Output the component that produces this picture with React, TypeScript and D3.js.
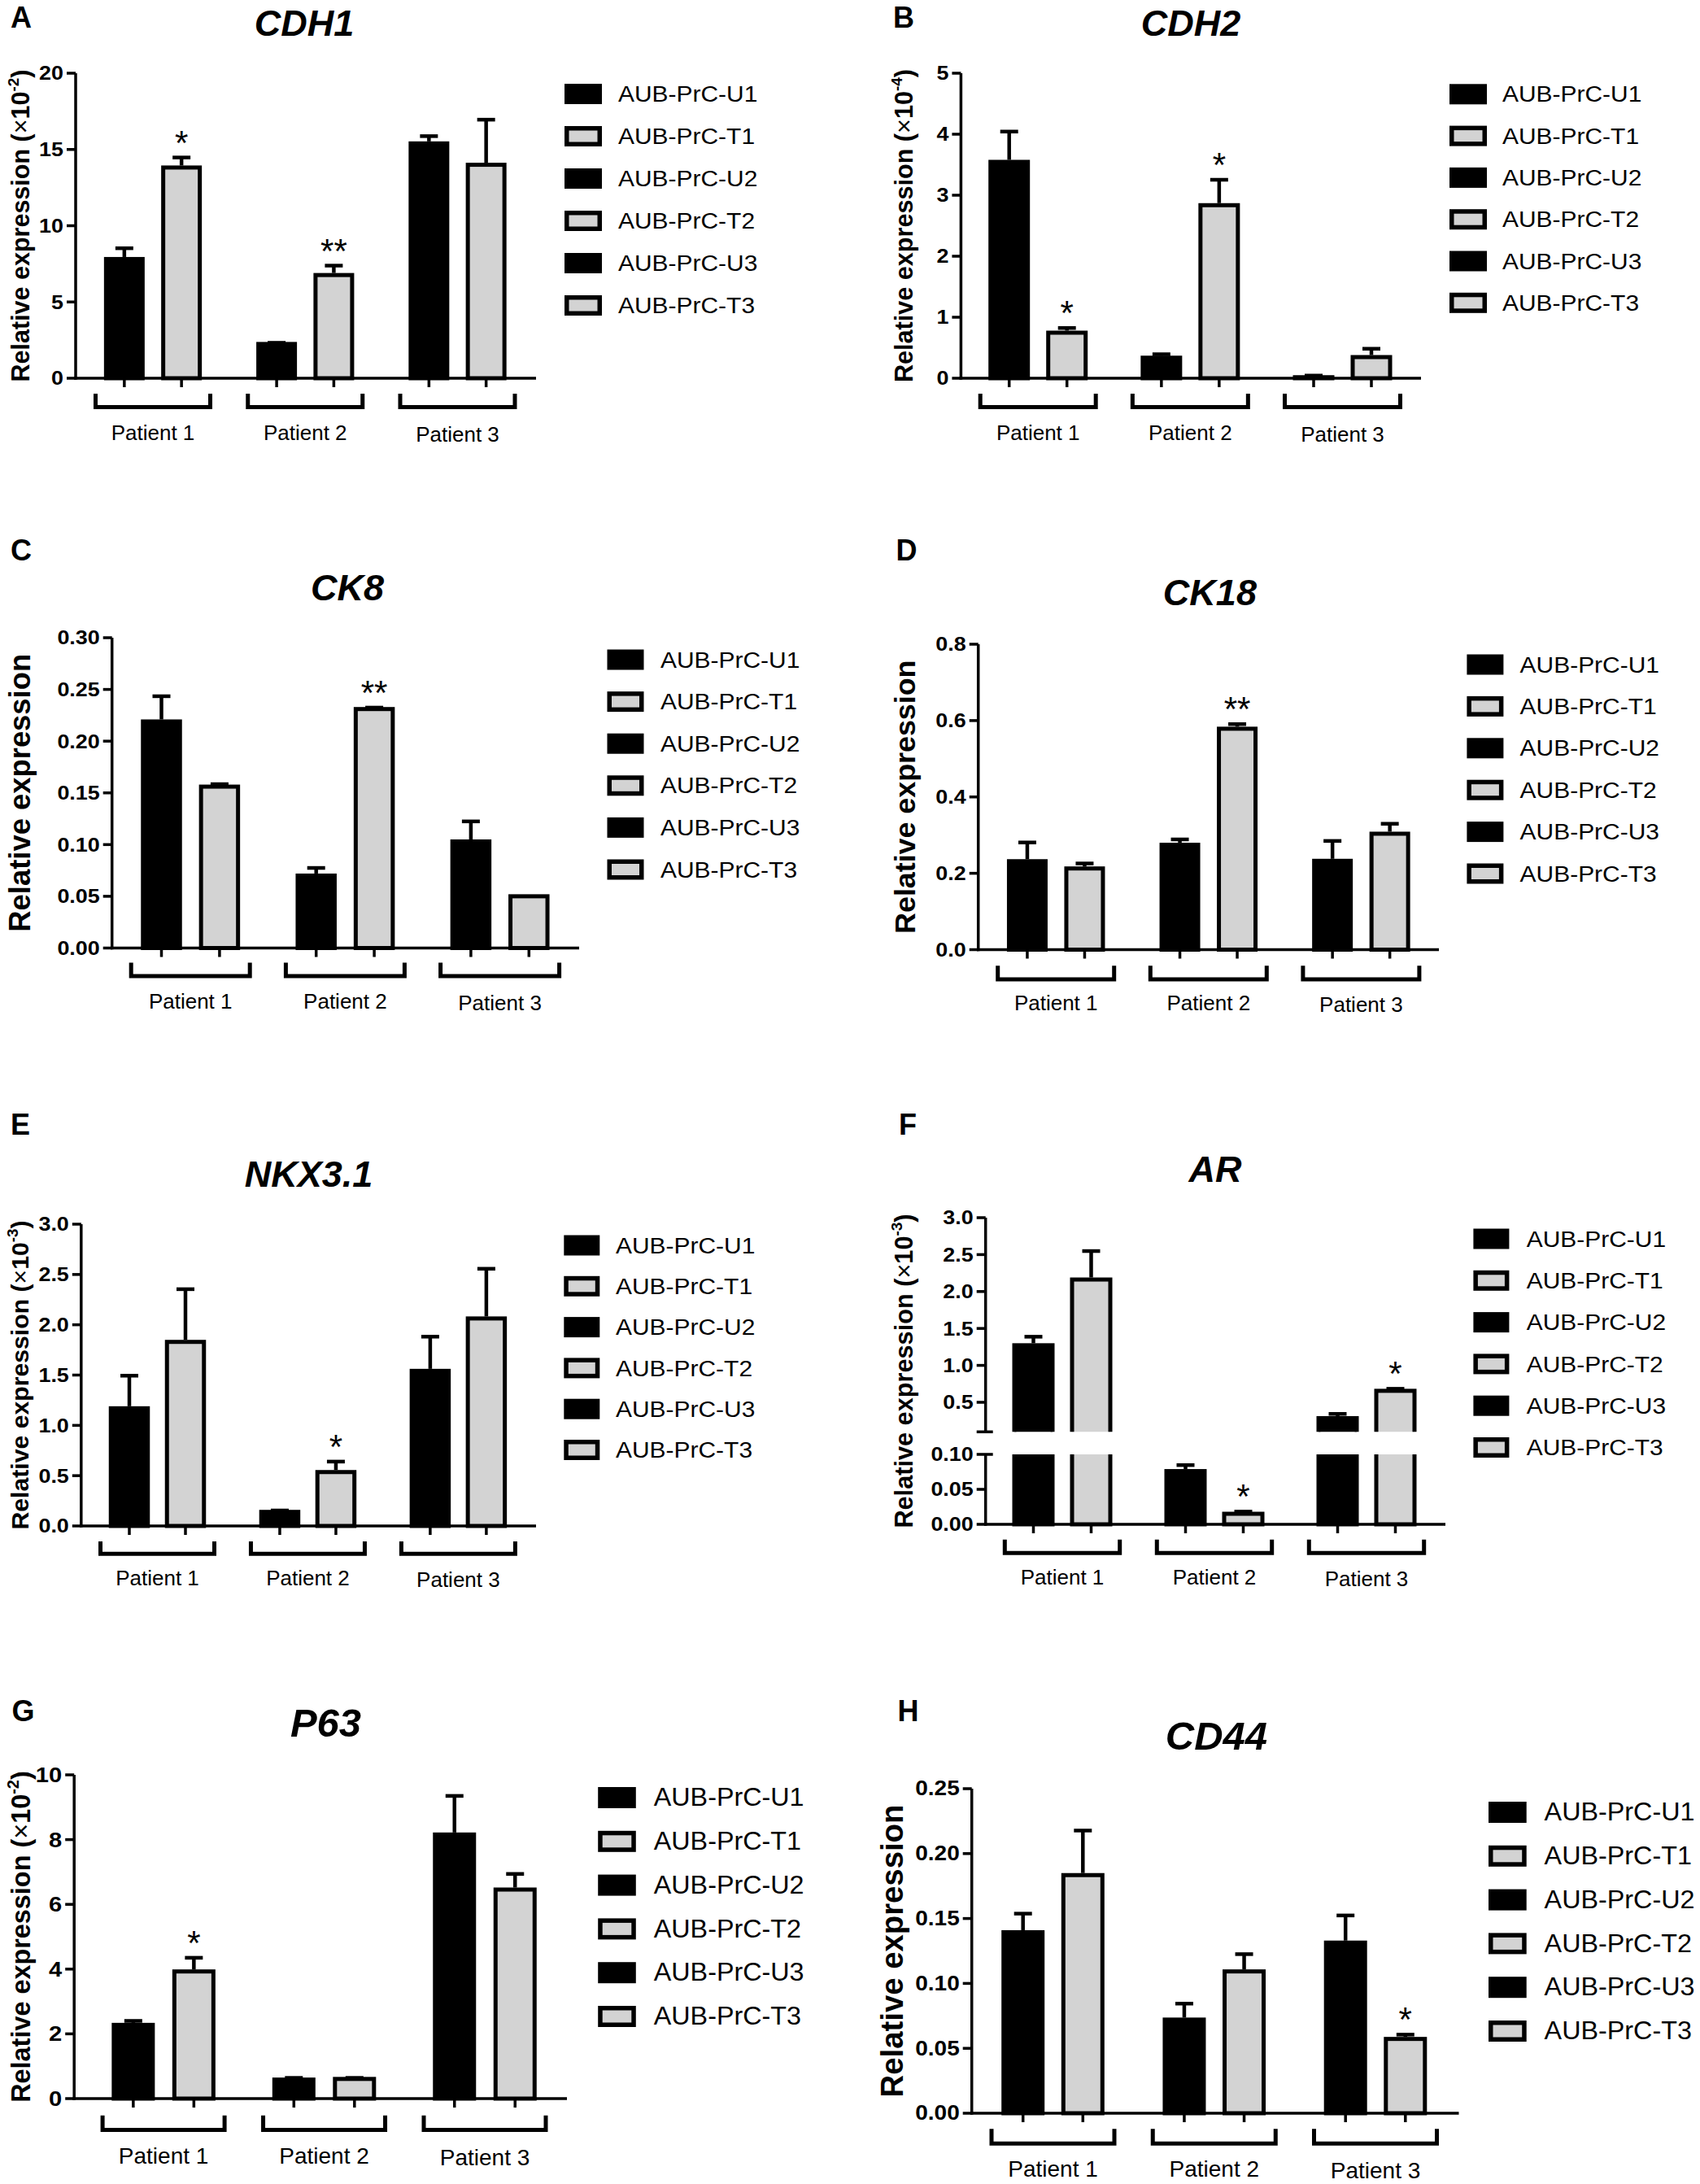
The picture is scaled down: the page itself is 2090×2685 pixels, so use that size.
import React from "react";
import * as d3 from "d3";

const FONT = "'Liberation Sans', Arial, Helvetica, sans-serif";
const GRAY = "#d3d3d3";
const INK = "#000000";

// ---------------- data ----------------
const samples = ["AUB-PrC-U1", "AUB-PrC-T1", "AUB-PrC-U2", "AUB-PrC-T2", "AUB-PrC-U3", "AUB-PrC-T3"];
const patients = ["Patient 1", "Patient 2", "Patient 3"];

const cdh1Mean = [7.95, 13.95, 2.38, 6.9, 15.53, 14.13];
const cdh1Sem = [0.68, 0.63, 0.05, 0.59, 0.45, 2.93];
const cdh1Sig = ["", "*", "", "**", "", ""];
const cdh1Ticks = [0, 5, 10, 15, 20];

const cdh2Mean = [3.58, 0.78, 0.37, 2.87, 0.05, 0.38];
const cdh2Sem = [0.49, 0.07, 0.05, 0.41, 0.02, 0.13];
const cdh2Sig = ["", "*", "", "*", "", ""];
const cdh2Ticks = [0, 1, 2, 3, 4, 5];

const ck8Mean = [0.221, 0.158, 0.072, 0.233, 0.105, 0.052];
const ck8Sem = [0.024, 0.002, 0.007, 0.001, 0.019, 0];
const ck8Sig = ["", "", "", "**", "", ""];
const ck8Ticks = [0, 0.05, 0.1, 0.15, 0.2, 0.25, 0.3];

const ck18Mean = [0.237, 0.218, 0.28, 0.584, 0.238, 0.309];
const ck18Sem = [0.048, 0.012, 0.013, 0.011, 0.051, 0.025];
const ck18Sig = ["", "", "", "**", "", ""];
const ck18Ticks = [0, 0.2, 0.4, 0.6, 0.8];

const nkxMean = [1.19, 1.85, 0.16, 0.556, 1.562, 2.083];
const nkxSem = [0.32, 0.52, 0.01, 0.1, 0.336, 0.49];
const nkxSig = ["", "", "", "*", "", ""];
const nkxTicks = [0, 0.5, 1, 1.5, 2, 2.5, 3];

const arMean = [1.3, 2.19, 0.079, 0.018, 0.313, 0.683];
const arSem = [0.11, 0.38, 0.008, 0.0025, 0.052, 0.022];
const arSig = ["", "", "", "*", "", "*"];
const arLowTicks = [0, 0.05, 0.1];
const arHighTicks = [0.5, 1, 1.5, 2, 2.5, 3];

const p63Mean = [2.34, 3.99, 0.65, 0.67, 8.22, 6.52];
const p63Sem = [0.11, 0.41, 0.04, 0.02, 1.18, 0.47];
const p63Sig = ["", "*", "", "", "", ""];
const p63Ticks = [0, 2, 4, 6, 8, 10];

const cd44Mean = [0.141, 0.185, 0.0737, 0.1108, 0.133, 0.0588];
const cd44Sem = [0.014, 0.034, 0.012, 0.013, 0.0206, 0.003];
const cd44Sig = ["", "", "", "", "", "*"];
const cd44Ticks = [0, 0.05, 0.1, 0.15, 0.2, 0.25];

// ---------------- layout (styles / positions) ----------------
type Layout = {
  letter: string; letterX: number; letterY: number;
  title: string; titleX: number; titleY: number; titleSize: number;
  yExp?: string; yLabelX: number; yLabelSize: number;
  axisX: number; y0: number; yTop: number; axisEnd: number; tickSize: number;
  g0: number; g2: number; pair: number; barW: number;
  bHalf: number; bTop: number; bBot: number; patY: number; patSize: number;
  legX: number; legW: number; legH: number; legY: number; legStep: number; legTextX: number; legSize: number; legSx: number;
};

const base = { tickSize: 24, patSize: 26, legW: 46, legH: 25, legSize: 28, legSx: 1.07, titleSize: 45, barW: 51 };

const LA: Layout = { ...base, letter: "A", letterX: 13, letterY: 34, title: "CDH1", titleX: 374, titleY: 44,
  yExp: "-2", yLabelX: 36, yLabelSize: 30.5, axisX: 93, y0: 465, yTop: 90, axisEnd: 659,
  g0: 188, g2: 562.5, pair: 70.3, barW: 50, bHalf: 70.5, bTop: 484, bBot: 503, patY: 532,
  legX: 694, legY: 115.5, legStep: 52, legTextX: 760 };
const LB: Layout = { ...base, letter: "B", letterX: 1098, letterY: 34, title: "CDH2", titleX: 1464, titleY: 44,
  yExp: "-4", yLabelX: 1122, yLabelSize: 30.6, axisX: 1181.4, y0: 465, yTop: 90, axisEnd: 1747,
  g0: 1276.2, g2: 1650.5, pair: 71, bHalf: 71, bTop: 484, bBot: 503, patY: 532,
  legX: 1782, legY: 115.8, legStep: 51.3, legTextX: 1847 };
const LC: Layout = { ...base, letter: "C", letterX: 13, letterY: 689, title: "CK8", titleX: 427, titleY: 738,
  yLabelX: 37, yLabelSize: 36.4, axisX: 137.7, y0: 1165.5, yTop: 784, axisEnd: 712,
  g0: 234.2, g2: 614.6, pair: 71.4, barW: 50.5, bHalf: 73, bTop: 1183.5, bBot: 1202.6, patY: 1231,
  legX: 746.5, legW: 45, legY: 811, legStep: 51.6, legTextX: 812 };
const LD: Layout = { ...base, letter: "D", letterX: 1101.5, letterY: 689, title: "CK18", titleX: 1487.4, titleY: 744,
  yLabelX: 1125, yLabelSize: 35.8, axisX: 1202.7, y0: 1167.5, yTop: 792, axisEnd: 1769,
  g0: 1298.2, g2: 1673.4, pair: 70.5, barW: 50, bHalf: 71.5, bTop: 1187.3, bBot: 1206.4, patY: 1233,
  legX: 1803.4, legW: 45, legY: 817, legStep: 51.4, legTextX: 1868.6 };
const LE: Layout = { ...base, letter: "E", letterX: 13, letterY: 1395, title: "NKX3.1", titleX: 379.5, titleY: 1459,
  yExp: "-3", yLabelX: 35, yLabelSize: 30.2, axisX: 99.8, y0: 1876, yTop: 1505, axisEnd: 659,
  g0: 193.5, g2: 563.4, pair: 69, barW: 50.5, bHalf: 70, bTop: 1895, bBot: 1912.7, patY: 1940,
  legX: 693.3, legW: 44, legY: 1531, legStep: 50.3, legTextX: 757 };
const LF: Layout = { ...base, letter: "F", letterX: 1105, letterY: 1395, title: "AR", titleX: 1494, titleY: 1453,
  yExp: "-3", yLabelX: 1122, yLabelSize: 30.7, axisX: 1211.7, y0: 1874, yTop: 1497, axisEnd: 1777,
  g0: 1306, g2: 1680, pair: 71, barW: 52, bHalf: 70.7, bTop: 1892.7, bBot: 1911.7, patY: 1939,
  legX: 1811.4, legW: 44, legY: 1523, legStep: 51.3, legTextX: 1876.7 };
const LG: Layout = { ...base, letter: "G", letterX: 14.6, letterY: 2116, title: "P63", titleX: 400.5, titleY: 2134.5, titleSize: 49,
  yExp: "-2", yLabelX: 36.5, yLabelSize: 32.4, axisX: 91.2, y0: 2580, yTop: 2182, axisEnd: 697, tickSize: 26,
  g0: 201.1, g2: 596, pair: 74.5, barW: 53, bHalf: 75, bTop: 2600.8, bBot: 2621, patY: 2650, patSize: 28,
  legX: 735.2, legW: 46.6, legH: 26, legY: 2210, legStep: 53.8, legTextX: 803.7, legSize: 30.5, legSx: 1.06 };
const LH: Layout = { ...base, letter: "H", letterX: 1103.5, letterY: 2116, title: "CD44", titleX: 1495.4, titleY: 2151, titleSize: 49,
  yLabelX: 1110, yLabelSize: 38.3, axisX: 1194.7, y0: 2598, yTop: 2199, axisEnd: 1793.5, tickSize: 25,
  g0: 1294.5, g2: 1691, pair: 73.6, barW: 53, bHalf: 75.5, bTop: 2617.2, bBot: 2637.8, patY: 2666.5, patSize: 28,
  legX: 1830, legW: 46.7, legH: 26, legY: 2228, legStep: 53.8, legTextX: 1898.6, legSize: 30.5, legSx: 1.06 };

// ---------------- primitives ----------------
const SW = 5;

function SText(props: any) {
  const { x, y, sx = 1, children, ...rest } = props;
  return (
    <text transform={`translate(${x},${y}) scale(${sx},1)`} fontFamily={FONT} {...rest}>
      {children}
    </text>
  );
}

function Bar({ x, top, bottom, w, gray }: any) {
  return (
    <rect x={x - w / 2 + SW / 2} y={top + SW / 2} width={w - SW} height={Math.max(0, bottom - top - SW / 2)}
      fill={gray ? GRAY : INK} stroke={INK} strokeWidth={SW} />
  );
}

function ErrBar({ x, from, to }: any) {
  return (
    <g stroke={INK} strokeWidth={4.5}>
      <line x1={x} x2={x} y1={from} y2={to + 2} />
      <line x1={x - 11} x2={x + 11} y1={to + 2} y2={to + 2} />
    </g>
  );
}

function Star({ x, y, s }: any) {
  if (!s) return null;
  return (
    <text x={x} y={y - 2} textAnchor="middle" fontFamily={FONT} fontSize={42} fill={INK}>{s}</text>
  );
}

function Header({ c }: { c: Layout }) {
  return (
    <g>
      <text x={c.letterX} y={c.letterY} fontFamily={FONT} fontWeight="bold" fontSize={36} fill={INK}>{c.letter}</text>
      <text x={c.titleX} y={c.titleY} textAnchor="middle" fontFamily={FONT} fontWeight="bold" fontStyle="italic"
        fontSize={c.titleSize} fill={INK}>{c.title}</text>
    </g>
  );
}

function YLabel({ c, mid }: { c: Layout; mid: number }) {
  const s = c.yLabelSize;
  return (
    <text transform={`translate(${c.yLabelX},${mid}) rotate(-90)`} textAnchor="middle" fontFamily={FONT}
      fontWeight="bold" fontSize={s} fill={INK}>
      Relative expression
      {c.yExp ? (
        <>
          {" ("}
          <tspan fontWeight="normal">×</tspan>
          10
          <tspan dy={-0.42 * s} fontSize={0.62 * s}>{c.yExp}</tspan>
          <tspan dy={0.42 * s}>)</tspan>
        </>
      ) : null}
    </text>
  );
}

function Legend({ c }: { c: Layout }) {
  return (
    <g>
      {samples.map((name, i) => {
        const cy = c.legY + i * c.legStep;
        const gray = i % 2 === 1;
        const ls = 5.5;
        return (
          <g key={name}>
            {gray ? (
              <rect x={c.legX + ls / 2} y={cy - c.legH / 2 + ls / 2} width={c.legW - ls} height={c.legH - ls}
                fill={GRAY} stroke={INK} strokeWidth={ls} />
            ) : (
              <rect x={c.legX} y={cy - c.legH / 2} width={c.legW} height={c.legH} fill={INK} />
            )}
            <SText x={c.legTextX} y={cy} sx={c.legSx} fontSize={c.legSize} dominantBaseline="central" fill={INK}>{name}</SText>
          </g>
        );
      })}
    </g>
  );
}

function XAxis({ c, bx, g }: any) {
  return (
    <g>
      <line x1={c.axisX - 1.75} x2={c.axisEnd} y1={c.y0} y2={c.y0} stroke={INK} strokeWidth={3.5} />
      {samples.map((s, i) => (
        <line key={s} x1={bx(i)} x2={bx(i)} y1={c.y0} y2={c.y0 + 11} stroke={INK} strokeWidth={3.5} />
      ))}
      {patients.map((p, k) => {
        const gc = g(k);
        return (
          <g key={p}>
            <path d={`M${gc - c.bHalf},${c.bTop} V${c.bBot - SW / 2} H${gc + c.bHalf} V${c.bTop}`}
              fill="none" stroke={INK} strokeWidth={SW} />
            <text x={gc} y={c.patY + (k === 2 ? 2 : 0)} textAnchor="middle" dominantBaseline="central"
              fontFamily={FONT} fontSize={c.patSize} fill={INK}>{p}</text>
          </g>
        );
      })}
    </g>
  );
}

function YTick({ c, y, label, both }: any) {
  return (
    <g>
      <line x1={c.axisX - 11} x2={c.axisX + (both ? 9 : 0)} y1={y} y2={y} stroke={INK} strokeWidth={3.5} />
      {label !== undefined ? (
        <SText x={c.axisX - 15} y={y} sx={1.12} textAnchor="end" dominantBaseline="central" fontWeight="bold"
          fontSize={c.tickSize} fill={INK}>{label}</SText>
      ) : null}
    </g>
  );
}

// ---------------- panels ----------------
function Panel({ c, mean, sem, sig, ticks, fmt }: any) {
  const max = ticks[ticks.length - 1];
  const y = d3.scaleLinear().domain([0, max]).range([c.y0, c.yTop]);
  const g = d3.scaleLinear().domain([0, 2]).range([c.g0, c.g2]);
  const bx = (i: number) => g(Math.floor(i / 2)) + (i % 2 ? c.pair / 2 : -c.pair / 2);
  const f = d3.format(fmt);
  return (
    <g>
      <Header c={c} />
      <YLabel c={c} mid={(c.y0 + c.yTop) / 2} />
      {mean.map((v: number, i: number) => (
        <Bar key={"b" + i} x={bx(i)} top={y(v)} bottom={c.y0} w={c.barW} gray={i % 2 === 1} />
      ))}
      {mean.map((v: number, i: number) =>
        sem[i] > 0 ? <ErrBar key={"e" + i} x={bx(i)} from={y(v)} to={y(v + sem[i])} /> : null
      )}
      {mean.map((v: number, i: number) => (
        <Star key={"s" + i} x={bx(i)} y={y(v + sem[i])} s={sig[i]} />
      ))}
      <line x1={c.axisX} x2={c.axisX} y1={c.y0 + 1.75} y2={c.yTop} stroke={INK} strokeWidth={3.5} />
      {ticks.map((t: number) => (
        <YTick key={t} c={c} y={y(t)} label={f(t)} />
      ))}
      <XAxis c={c} bx={bx} g={g} />
      <Legend c={c} />
    </g>
  );
}

function BrokenPanel({ c }: { c: Layout }) {
  const lowTop = 1788;
  const highBottom = 1760.3;
  const yLow = d3.scaleLinear().domain([0, 0.1]).range([c.y0, lowTop]);
  const yHigh = d3.scaleLinear().domain([0.1, 3.0]).range([highBottom, c.yTop]);
  const yv = (v: number) => (v > 0.1 ? yHigh(v) : yLow(v));
  const g = d3.scaleLinear().domain([0, 2]).range([c.g0, c.g2]);
  const bx = (i: number) => g(Math.floor(i / 2)) + (i % 2 ? c.pair / 2 : -c.pair / 2);
  const fLow = d3.format(".2f");
  const fHigh = d3.format(".1f");
  return (
    <g>
      <defs>
        <clipPath id="arLow"><rect x={c.axisX} y={lowTop} width={700} height={c.y0 - lowTop + 20} /></clipPath>
        <clipPath id="arHigh"><rect x={c.axisX} y={c.yTop - 60} width={700} height={highBottom - c.yTop + 60} /></clipPath>
      </defs>
      <Header c={c} />
      <YLabel c={c} mid={(c.y0 + c.yTop) / 2} />
      <g clipPath="url(#arLow)">
        {arMean.map((v, i) => (
          <Bar key={"l" + i} x={bx(i)} top={v > 0.1 ? lowTop - 20 : yLow(v)} bottom={c.y0} w={c.barW} gray={i % 2 === 1} />
        ))}
      </g>
      <g clipPath="url(#arHigh)">
        {arMean.map((v, i) =>
          v > 0.1 ? <Bar key={"h" + i} x={bx(i)} top={yHigh(v)} bottom={highBottom + 20} w={c.barW} gray={i % 2 === 1} /> : null
        )}
      </g>
      {arMean.map((v, i) => (
        <ErrBar key={"e" + i} x={bx(i)} from={yv(v)} to={yv(v + arSem[i])} />
      ))}
      {arMean.map((v, i) => (
        <Star key={"s" + i} x={bx(i)} y={yv(v + arSem[i])} s={arSig[i]} />
      ))}
      <line x1={c.axisX} x2={c.axisX} y1={c.y0 + 1.75} y2={lowTop} stroke={INK} strokeWidth={3.5} />
      <line x1={c.axisX} x2={c.axisX} y1={highBottom} y2={c.yTop} stroke={INK} strokeWidth={3.5} />
      {arLowTicks.map((t) => (
        <YTick key={"lt" + t} c={c} y={yLow(t)} label={fLow(t)} both={t === 0.1} />
      ))}
      {arHighTicks.map((t) => (
        <YTick key={"ht" + t} c={c} y={yHigh(t)} label={fHigh(t)} />
      ))}
      <YTick c={c} y={highBottom} both={true} />
      <XAxis c={c} bx={bx} g={g} />
      <Legend c={c} />
    </g>
  );
}

export default function App() {
  return (
    <svg width={2090} height={2685} viewBox="0 0 2090 2685"
      style={{ position: "absolute", left: 0, top: 0, background: "#ffffff" }}>
      <rect x={0} y={0} width={2090} height={2685} fill="#ffffff" />
      <Panel c={LA} mean={cdh1Mean} sem={cdh1Sem} sig={cdh1Sig} ticks={cdh1Ticks} fmt="d" />
      <Panel c={LB} mean={cdh2Mean} sem={cdh2Sem} sig={cdh2Sig} ticks={cdh2Ticks} fmt="d" />
      <Panel c={LC} mean={ck8Mean} sem={ck8Sem} sig={ck8Sig} ticks={ck8Ticks} fmt=".2f" />
      <Panel c={LD} mean={ck18Mean} sem={ck18Sem} sig={ck18Sig} ticks={ck18Ticks} fmt=".1f" />
      <Panel c={LE} mean={nkxMean} sem={nkxSem} sig={nkxSig} ticks={nkxTicks} fmt=".1f" />
      <BrokenPanel c={LF} />
      <Panel c={LG} mean={p63Mean} sem={p63Sem} sig={p63Sig} ticks={p63Ticks} fmt="d" />
      <Panel c={LH} mean={cd44Mean} sem={cd44Sem} sig={cd44Sig} ticks={cd44Ticks} fmt=".2f" />
    </svg>
  );
}
